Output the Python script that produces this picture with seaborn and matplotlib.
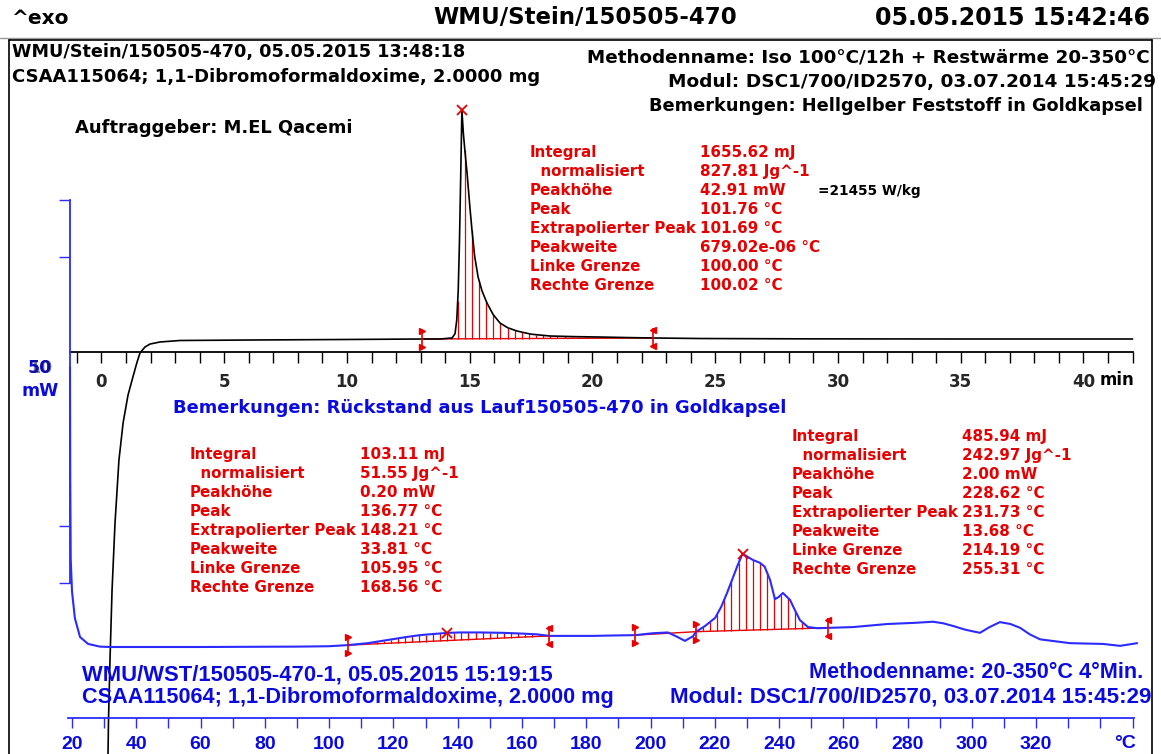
import numpy as np
import pandas as pd
import matplotlib
matplotlib.use("Agg")
import matplotlib.pyplot as plt
from matplotlib.lines import Line2D
import seaborn as sns

# ---------------------------------------------------------------------------
# Measurement data
# ---------------------------------------------------------------------------
# Isothermal segment (black): heat flow [mW] against time [min]
iso_time_min = [0.24, 0.285, 0.346, 0.43, 0.55, 0.71, 0.88, 1.08, 1.28, 1.45,
                1.57, 1.77, 1.98, 2.38, 3.2, 6.0, 10.0, 13.06, 13.8, 14.28,
                14.40, 14.47, 14.53, 14.58, 14.63, 14.68, 14.74, 14.8, 14.89, 15.0,
                15.09, 15.2, 15.34, 15.5, 15.7, 15.95, 16.23, 16.55, 16.92, 17.5,
                18.27, 19.2, 20.3, 21.4, 22.46, 24.4, 28.5, 35.0, 42.0]
iso_heatflow_mw = [-86.0, -71.4, -60.1, -47.0, -34.5, -22.7, -15.7, -10.5, -7.1, -4.3,
                   -2.6, -1.5, -0.94, -0.56, -0.28, -0.19, -0.09, 0.0, 0.0, 0.2,
                   1.0, 3.5, 9.0, 18.0, 30.0, 42.91, 38.5, 35.4, 31.1, 25.0,
                   20.4, 15.5, 11.6, 9.0, 6.75, 4.6, 3.0, 2.1, 1.5, 0.9,
                   0.56, 0.45, 0.37, 0.27, 0.19, 0.09, 0.03, 0.0, 0.0]

# Dynamic run (blue): heat flow [mW] against temperature [°C]
dyn_temp_c = [19.38, 19.45, 19.6, 20.0, 20.9, 22.5, 25.0, 28.7, 31.8,
              60.0, 90.0, 100.0, 105.95, 112.0, 118.0, 124.0, 128.3, 132.5, 136.77,
              140.7, 147.0, 154.1, 160.0, 164.7, 168.56, 175.0, 182.0, 188.0, 195.2,
              200.8, 205.4, 208.2, 210.7, 213.2, 214.19, 217.0, 220.1, 222.0, 223.8,
              225.5, 226.9, 228.62, 231.9, 234.0, 235.5, 237.2, 238.7, 239.8, 241.2,
              243.4, 245.0, 246.5, 249.0, 252.0, 255.31, 263.0, 273.6, 282.0, 287.9,
              291.0, 294.1, 298.0, 302.5, 305.5, 308.7, 312.0, 315.0, 318.0, 321.2,
              330.5, 340.8, 346.1, 351.4]
dyn_heatflow_mw = [7.3, 4.5, 2.3, 1.45, 0.75, 0.26, 0.08, 0.01, 0.0,
                   0.0, 0.01, 0.02, 0.05, 0.1, 0.18, 0.26, 0.31, 0.34, 0.368,
                   0.38, 0.38, 0.37, 0.35, 0.33, 0.29, 0.29, 0.29, 0.3, 0.31,
                   0.36, 0.38, 0.27, 0.16, 0.28, 0.40, 0.55, 0.76, 1.05, 1.41,
                   1.78, 2.09, 2.435, 2.27, 2.2, 2.1, 1.75, 1.25, 1.3, 1.41,
                   1.23, 0.95, 0.7, 0.52, 0.49, 0.5, 0.52, 0.6, 0.63, 0.66,
                   0.62, 0.55, 0.45, 0.37, 0.52, 0.65, 0.6, 0.5, 0.33, 0.2,
                   0.1, 0.08, 0.03, 0.1]

# Evaluation limits / peaks
iso_limits_min = [13.06, 22.46]
iso_peak_min, iso_peak_height_mw = 14.68, 42.91
dyn_limits_a = [105.95, 168.56]
dyn_peak_a = 136.77
dyn_limits_b = [214.19, 255.31]
dyn_peak_b = 228.62
dyn_extra_limit = 195.2

# Axis ticks
time_ticks = [0, 5, 10, 15, 20, 25, 30, 35, 40]
time_tick_labels = ["0", "5", "10", "15", "20", "25", "30", "35", "40"]
temp_ticks = [20, 40, 60, 80, 100, 120, 140, 160, 180, 200, 220, 240, 260, 280, 300, 320]
temp_tick_labels = [str(t) for t in temp_ticks]

# Evaluation tables
eval_labels = ["Integral", "  normalisiert", "Peakhöhe", "Peak",
               "Extrapolierter Peak", "Peakweite", "Linke Grenze", "Rechte Grenze"]
iso_eval_values = ["1655.62 mJ", "827.81 Jg^-1", "42.91 mW", "101.76 °C",
                   "101.69 °C", "679.02e-06 °C", "100.00 °C", "100.02 °C"]
dyn_eval_values_a = ["103.11 mJ", "51.55 Jg^-1", "0.20 mW", "136.77 °C",
                     "148.21 °C", "33.81 °C", "105.95 °C", "168.56 °C"]
dyn_eval_values_b = ["485.94 mJ", "242.97 Jg^-1", "2.00 mW", "228.62 °C",
                     "231.73 °C", "13.68 °C", "214.19 °C", "255.31 °C"]

# ---------------------------------------------------------------------------
# Style
# ---------------------------------------------------------------------------
sns.set_theme(style="white")
plt.rcParams['font.family'] = ['DejaVu Sans']

BLACK = "#000000"
RED = "#e60000"
BLUE_TXT = "#0a0ae0"
BLUE_LINE = "#2b2bff"

WIDE = dict(fontfamily=["DejaVu Sans"], fontweight="bold")
NARROW = dict(fontfamily=["Liberation Sans", "DejaVu Sans"], fontweight="bold")

W, H = 1161, 754
fig = plt.figure(figsize=(W / 100, H / 100), dpi=100)
fig.patch.set_facecolor("white")


def fx(p):
    return p / W


def fy(q):
    return 1 - q / H


def put(x, y, s, **kw):
    kw.setdefault("va", "center")
    fig.text(fx(x), fy(y), s, **kw)


def full_axes(x_px0, x_val0, px_per_x, y_px0, px_per_y):
    """Axes over the whole canvas; x_val0 sits at pixel x_px0, 0 at pixel row y_px0."""
    ax = fig.add_axes([0, 0, 1, 1])
    ax.patch.set_alpha(0)
    for s in ax.spines.values():
        s.set_visible(False)
    xlim = (x_val0 + (0 - x_px0) / px_per_x, x_val0 + (W - x_px0) / px_per_x)
    ylim = ((y_px0 - H) / px_per_y, y_px0 / px_per_y)
    to_x = lambda p: x_val0 + (p - x_px0) / px_per_x
    to_y = lambda q: (y_px0 - q) / px_per_y
    return ax, xlim, ylim, to_x, to_y


# ---------------------------------------------------------------------------
# Axes: isothermal (time) and dynamic (temperature)
# ---------------------------------------------------------------------------
ax_iso, iso_xlim, iso_ylim, iso_x, iso_y = full_axes(101.5, 0.0, 24.55, 339, 5.34)
ax_dyn, dyn_xlim, dyn_ylim, dyn_x, dyn_y = full_axes(72.0, 20.0, 3.214, 647, 38.3)


def limit_marker(ax, x, y, to_y, side, color=RED):
    """Bracket-shaped evaluation limit: vertical stroke with two small flags."""
    h = to_y(0) - to_y(10)
    ax.plot([x, x], [y - h, y + h], color=color, lw=1.2, solid_capstyle="butt")
    mk = ">" if side == "left" else "<"
    ax.plot([x, x], [y + h * 0.8, y - h * 0.8], ls="none", marker=mk, ms=4.5,
            color=color, mec=color)


def hatch(ax, xs, ys, lo, hi, step, color=RED):
    xs = np.asarray(xs, float)
    ys = np.asarray(ys, float)
    y_lo, y_hi = np.interp([lo, hi], xs, ys)
    grid = np.arange(lo, hi + 1e-9, step)
    top = np.interp(grid, xs, ys)
    base = y_lo + (grid - lo) * (y_hi - y_lo) / (hi - lo)
    ax.vlines(grid, base, top, color=color, lw=0.9)
    ax.plot([lo, hi], [y_lo, y_hi], color=color, lw=1.0)
    return y_lo, y_hi


# --- isothermal curve -------------------------------------------------------
iso_df = pd.DataFrame({"t": iso_time_min, "q": iso_heatflow_mw})
hatch(ax_iso, iso_time_min, iso_heatflow_mw, iso_limits_min[0], iso_limits_min[1], 0.29)
sns.lineplot(data=iso_df, x="t", y="q", ax=ax_iso, color=BLACK, lw=1.2,
             sort=False, estimator=None)
for side, lim in zip(["left", "right"], iso_limits_min):
    limit_marker(ax_iso, lim, float(np.interp(lim, iso_time_min, iso_heatflow_mw)),
                 iso_y, side)
ax_iso.plot([iso_peak_min], [iso_peak_height_mw], ls="none", marker="x", ms=7,
            mew=1.3, color=RED)

# --- dynamic curve ----------------------------------------------------------
dyn_df = pd.DataFrame({"T": dyn_temp_c, "q": dyn_heatflow_mw})
hatch(ax_dyn, dyn_temp_c, dyn_heatflow_mw, dyn_limits_a[0], dyn_limits_a[1], 2.2)
hatch(ax_dyn, dyn_temp_c, dyn_heatflow_mw, dyn_limits_b[0], dyn_limits_b[1], 2.2)
# baseline of the (unhatched) evaluation between 195 °C and the second peak
ax_dyn.plot([dyn_extra_limit, dyn_limits_b[0]],
            np.interp([dyn_extra_limit, dyn_limits_b[0]], dyn_temp_c, dyn_heatflow_mw),
            color=RED, lw=1.0)
sns.lineplot(data=dyn_df, x="T", y="q", ax=ax_dyn, color=BLUE_LINE, lw=1.5,
             sort=False, estimator=None)
for lims in (dyn_limits_a, dyn_limits_b):
    for side, lim in zip(["left", "right"], lims):
        limit_marker(ax_dyn, lim, float(np.interp(lim, dyn_temp_c, dyn_heatflow_mw)),
                     dyn_y, side)
limit_marker(ax_dyn, dyn_extra_limit,
             float(np.interp(dyn_extra_limit, dyn_temp_c, dyn_heatflow_mw)), dyn_y, "left")
for pk in (dyn_peak_a, dyn_peak_b):
    ax_dyn.plot([pk], [float(np.interp(pk, dyn_temp_c, dyn_heatflow_mw))], ls="none",
                marker="x", ms=7, mew=1.3, color=RED)

# --- axis decoration --------------------------------------------------------
for ax, xl, yl in ((ax_iso, iso_xlim, iso_ylim), (ax_dyn, dyn_xlim, dyn_ylim)):
    ax.set_xlim(*xl)
    ax.set_ylim(*yl)
    ax.set_xlabel("")
    ax.set_ylabel("")

# time axis (minutes)
sp = ax_iso.spines["bottom"]
sp.set_visible(True)
sp.set_color(BLACK)
sp.set_linewidth(1.3)
sp.set_position(("data", iso_y(352)))
sp.set_bounds(iso_x(70), iso_x(1133))
ax_iso.set_xticks(time_ticks)
ax_iso.set_xticklabels(time_tick_labels)
ax_iso.set_xticks(np.arange(-1, 43, 1), minor=True)
ax_iso.tick_params(axis="x", which="both", direction="out", length=8, width=1,
                   color=BLACK, bottom=True, pad=7)
for lab in ax_iso.get_xticklabels():
    lab.set_fontsize(12)
    lab.set_fontweight("bold")
ax_iso.set_yticks([])

# temperature axis (°C)
sp = ax_dyn.spines["bottom"]
sp.set_visible(True)
sp.set_color(BLUE_LINE)
sp.set_linewidth(1.3)
sp.set_position(("data", dyn_y(718)))
sp.set_bounds(dyn_x(68), dyn_x(1134))
ax_dyn.set_xticks(temp_ticks)
ax_dyn.set_xticklabels(temp_tick_labels)
ax_dyn.set_xticks(np.arange(20, 351, 10), minor=True)
ax_dyn.tick_params(axis="x", which="both", direction="out", length=7, width=1,
                   color=BLUE_LINE, labelcolor=BLUE_TXT, bottom=True, pad=6)
for lab in ax_dyn.get_xticklabels():
    lab.set_fontsize(14)
    lab.set_fontweight("bold")
    lab.set_fontfamily(NARROW["fontfamily"])

# heat-flow scale bar (10 mW) on the left
bar_lo = dyn_y(583)
bar_mw = 10.0
sp = ax_dyn.spines["left"]
sp.set_visible(True)
sp.set_color(BLUE_LINE)
sp.set_linewidth(1.3)
sp.set_position(("data", dyn_x(70)))
sp.set_bounds(bar_lo, bar_lo + bar_mw)
ax_dyn.set_yticks([bar_lo, bar_lo + 1.5, bar_lo + bar_mw - 1.5, bar_lo + bar_mw])
ax_dyn.set_yticklabels([])
ax_dyn.tick_params(axis="y", direction="out", length=8, width=1, color=BLUE_LINE, left=True)

# ---------------------------------------------------------------------------
# Frame and header
# ---------------------------------------------------------------------------
fig.add_artist(Line2D([0, 1], [fy(38), fy(38)], color="#9a9a9a", lw=1.0))
for xs, ys in (([9, 9], [40, 760]), ([1152, 1152], [40, 760]), ([9, 1152], [40, 40])):
    fig.add_artist(Line2D([fx(v) for v in xs], [fy(v) for v in ys], color=BLACK, lw=1.2,
                          zorder=5))

put(12, 18, "^exo", fontsize=14.5, color=BLACK, **WIDE)
put(585, 18, "WMU/Stein/150505-470", ha="center", fontsize=16.5, color=BLACK, **WIDE)
put(1150, 18, "05.05.2015 15:42:46", ha="right", fontsize=17, color=BLACK, **WIDE)

# sample / method information (isothermal run)
put(12, 52, "WMU/Stein/150505-470, 05.05.2015 13:48:18", fontsize=12.7, color=BLACK, **WIDE)
put(12, 77, "CSAA115064; 1,1-Dibromoformaldoxime, 2.0000 mg", fontsize=13.0, color=BLACK, **WIDE)
put(1150, 58, "Methodenname: Iso 100°C/12h + Restwärme 20-350°C", ha="right",
    fontsize=13.2, color=BLACK, **WIDE)
put(668, 82, "Modul: DSC1/700/ID2570, 03.07.2014 15:45:29",
    fontsize=13.3, color=BLACK, **WIDE)
put(1143, 106, "Bemerkungen: Hellgelber Feststoff in Goldkapsel", ha="right",
    fontsize=12.8, color=BLACK, **WIDE)
put(75, 128, "Auftraggeber: M.EL Qacemi", fontsize=12.9, color=BLACK, **WIDE)

# evaluation tables
def eval_block(x_lab, x_val, y0, values, dy=18.9):
    for i, (lab, val) in enumerate(zip(eval_labels, values)):
        put(x_lab, y0 + i * dy, lab, fontsize=10.9, color=RED, **WIDE)
        put(x_val, y0 + i * dy, val, fontsize=10.9, color=RED, **WIDE)


eval_block(530, 700, 153, iso_eval_values)
put(818, 153 + 2 * 18.9, "=21455 W/kg", fontsize=9.8, color=BLACK, **WIDE)
eval_block(190, 360, 455, dyn_eval_values_a)
eval_block(792, 962, 437, dyn_eval_values_b)

# axis captions
put(1100, 380, "min", fontsize=12, color=BLACK, **WIDE)
put(1125, 743, "°C", ha="center", fontsize=14, color=BLUE_TXT, **NARROW)
put(40, 368, "50", ha="center", fontsize=12.5, color=BLUE_TXT, **WIDE)
put(40, 368, "10", ha="center", fontsize=12.5, color="#101060", alpha=0.55, **WIDE)
put(40, 391, "mW", ha="center", fontsize=12.5, color=BLUE_TXT, **WIDE)

# dynamic run information
put(173, 408, "Bemerkungen: Rückstand aus Lauf150505-470 in Goldkapsel", fontsize=12.9,
    color=BLUE_TXT, **WIDE)
put(82, 675, "WMU/WST/150505-470-1, 05.05.2015 15:19:15", fontsize=15.8, color=BLUE_TXT, **NARROW)
put(82, 697, "CSAA115064; 1,1-Dibromoformaldoxime, 2.0000 mg", fontsize=15.6, color=BLUE_TXT, **NARROW)
put(1143, 673, "Methodenname: 20-350°C 4°Min.", ha="right", fontsize=15.6, color=BLUE_TXT, **NARROW)
put(670, 697, "Modul: DSC1/700/ID2570, 03.07.2014 15:45:29", fontsize=16.1, color=BLUE_TXT, **NARROW)

fig.savefig("out.png", dpi=100, facecolor="white")
